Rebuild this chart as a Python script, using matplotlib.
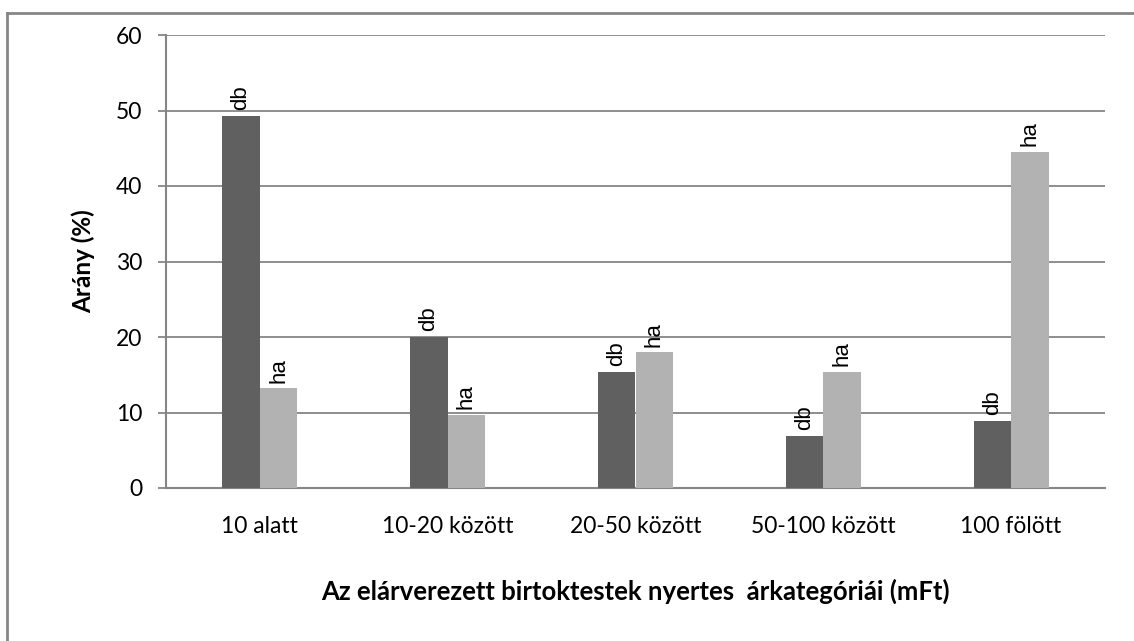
from matplotlib import pyplot as plt
import numpy as np

# Data
categories = ['10 alatt', '10-20 között', '20-50 között', '50-100 között', '100 fölött']
db_values = [49.3, 20.0, 15.4, 6.9, 8.9]
ha_values = [13.2, 9.7, 18.0, 15.4, 44.5]

grid_col = '#868686'

fig = plt.figure(figsize=(11.34, 6.41), dpi=100)
ax = fig.add_axes([166 / 1134, 1 - 488 / 641, (1105 - 166) / 1134, (488 - 35) / 641])

x = np.arange(len(categories))
w = 0.2
bars_db = ax.bar(x - w / 2, db_values, w, color='#606060', zorder=3)
bars_ha = ax.bar(x + w / 2, ha_values, w, color='#b2b2b2', zorder=3)

for bars, lab in ((bars_db, 'db'), (bars_ha, 'ha')):
    for b in bars:
        ax.annotate(lab, (b.get_x() + b.get_width() / 2, b.get_height()),
                    xytext=(0, 4), textcoords='offset points', rotation=90,
                    ha='center', va='bottom', fontsize=16, family='Liberation Sans')

ax.set_xlim(-0.5, len(categories) - 0.5)
ax.set_ylim(0, 60)
ax.set_yticks(range(0, 61, 10))
ax.set_xticks(x)
ax.set_xticklabels(categories, family='Lato', fontsize=16.5)
for t in ax.get_yticklabels():
    t.set_family('Lato')
    t.set_fontsize(16.5)

ax.yaxis.grid(True, color=grid_col, lw=1.3, zorder=0)
for s in ('top', 'right'):
    ax.spines[s].set_visible(False)
for s in ('left', 'bottom'):
    ax.spines[s].set_color(grid_col)
    ax.spines[s].set_linewidth(1.5)
ax.tick_params(axis='y', length=6, width=1.3, color=grid_col, pad=11)
ax.tick_params(axis='x', length=0, pad=20)

ax.set_ylabel('Arány (%)', family='Lato', fontsize=17.5, fontweight='bold', labelpad=15)
ax.set_xlabel('Az elárverezett birtoktestek nyertes  árkategóriái (mFt)',
              family='Lato', fontsize=18.5, fontweight='bold', labelpad=30)

# outer chart border (left and top only visible)
fig.add_artist(plt.Line2D([7 / 1134, 7 / 1134], [0, 1 - 13 / 641], color=grid_col, lw=2))
fig.add_artist(plt.Line2D([7 / 1134, 1], [1 - 13 / 641, 1 - 13 / 641], color=grid_col, lw=2))

plt.savefig('out.png', dpi=100)
